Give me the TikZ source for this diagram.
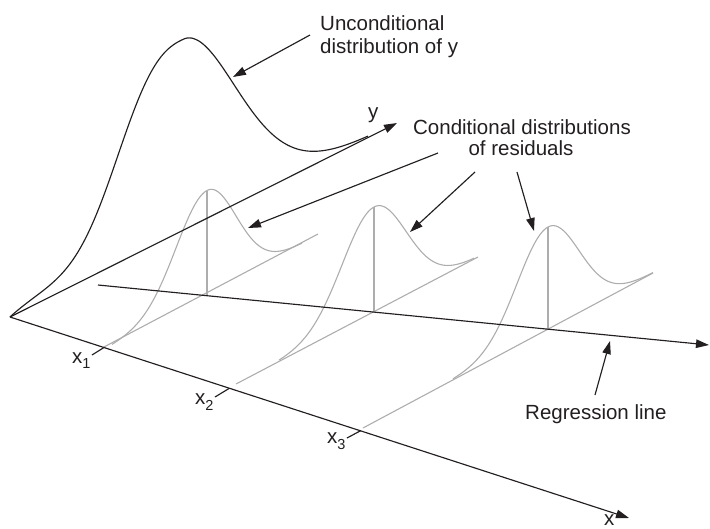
\documentclass[tikz,border=0pt]{standalone}
\usepackage{fontspec}
\setmainfont{Liberation Sans}
\usetikzlibrary{arrows.meta}
\definecolor{ink}{HTML}{231F20}
\definecolor{lgray}{HTML}{ADADAD}
\begin{document}
\begin{tikzpicture}[x=1pt,y=-1pt,
  blk/.style={draw=ink,line width=1.15pt},
  gry/.style={draw=lgray,line width=1.1pt},
  tip/.style={-{Triangle[length=13pt,width=8.5pt]}},
  lbl/.style={inner sep=0pt,text=ink,font=\fontsize{20.5}{24}\selectfont},
]
\useasboundingbox (0,0) rectangle (710,528);

% axes and regression line end points
\coordinate (O) at (10,317);
\coordinate (Yt) at (397,123);
\coordinate (Xt) at (629,518);
\coordinate (R0) at (98,285);
\coordinate (R1) at (709,345);

% grey lines through x1, x2, x3
\coordinate (g1a) at (103,347.5); \coordinate (g1b) at (318,234);
\coordinate (g2a) at (236,384);   \coordinate (g2b) at (478,257);
\coordinate (g3a) at (363,428);   \coordinate (g3b) at (653,273);
% ticks
\coordinate (t1a) at (92,355);  \coordinate (t1b) at (104,347.5);
\coordinate (t2a) at (215,397); \coordinate (t2b) at (229,388.5);
\coordinate (t3a) at (347,438); \coordinate (t3b) at (361,430.5);
% centres and peaks
\coordinate (c1) at (207,294.5); \coordinate (p1) at (207,190.5);
\coordinate (c2) at (374,311.5); \coordinate (p2) at (374,207);
\coordinate (c3) at (548,329);   \coordinate (p3) at (548,227);

% grey structure
\draw[gry] (g1a) -- (g1b);
\draw[gry] (g2a) -- (g2b);
\draw[gry] (g3a) -- (g3b);
\draw[gry] (c1) -- (p1);
\draw[gry] (c2) -- (p2);
\draw[gry] (c3) -- (p3);
\draw[gry] plot[domain=-95:95,samples=120,smooth]
  ({207+\x},{294.5-0.535*\x-104*exp(-0.5*(\x/(\x<0 ? 31 : 29))^2)});
\draw[gry] plot[domain=-95:100,samples=120,smooth]
  ({374+\x},{311.5-0.525*\x-104.5*exp(-0.5*(\x/32)^2)});
\draw[gry] plot[domain=-95:105,samples=120,smooth]
  ({548+\x},{329-0.534*\x-102*exp(-0.5*(\x/31)^2)});

% unconditional distribution
\draw[blk] plot[domain=-174:184,samples=181,smooth]
  ({184+\x},{229.8-0.5013*\x
     -187*exp(-((abs(\x)+0.01)/(\x<0 ? 79.3 : 76))^(\x<0 ? 2.6 : 1.85))
     -0.4*(\x+174)*exp(-(\x+174)/60)});

% axes
\draw[blk,tip] (O) -- (Yt);
\draw[blk,tip] (O) -- (Xt);
\draw[blk,tip] (R0) -- (R1);
\draw[blk] (t1a) -- (t1b);
\draw[blk] (t2a) -- (t2b);
\draw[blk] (t3a) -- (t3b);

% labels
\node[lbl,anchor=base west] (u1) at (320,30) {Unconditional};
\node[lbl,anchor=base west] (u2) at (320,53) {distribution of y};
\node[lbl,anchor=base] (cd1) at (522,134) {Conditional distributions};
\node[lbl,anchor=base] (cd2) at (521,155) {of residuals};
\node[lbl,anchor=base west] (ylab) at (368,118) {y};
\node[lbl,anchor=base west] (xlab) at (604,525) {x};
\node[lbl,anchor=base west] (x1) at (72,363) {x\raisebox{-5pt}{\fontsize{14.5}{16}\selectfont 1}};
\node[lbl,anchor=base west] (x2) at (195,404) {x\raisebox{-6pt}{\fontsize{14.5}{16}\selectfont 2}};
\node[lbl,anchor=base west] (x3) at (327,443) {x\raisebox{-6pt}{\fontsize{14.5}{16}\selectfont 3}};
\node[lbl,anchor=base west] (reg) at (525,419) {Regression line};

% pointer arrows
\coordinate (a0s) at (310,35);  \coordinate (a0e) at (233,77);
\coordinate (a1s) at (438,153); \coordinate (a1e) at (248,228);
\coordinate (a2s) at (475,172); \coordinate (a2e) at (410,232);
\coordinate (a3s) at (517,172); \coordinate (a3e) at (534,231);
\coordinate (ars) at (595,395); \coordinate (are) at (610,341);
\draw[blk,tip] (a0s) -- (a0e);
\draw[blk,tip] (a1s) -- (a1e);
\draw[blk,tip] (a2s) -- (a2e);
\draw[blk,tip] (a3s) -- (a3e);
\draw[blk,tip] (ars) -- (are);
\end{tikzpicture}
\end{document}
